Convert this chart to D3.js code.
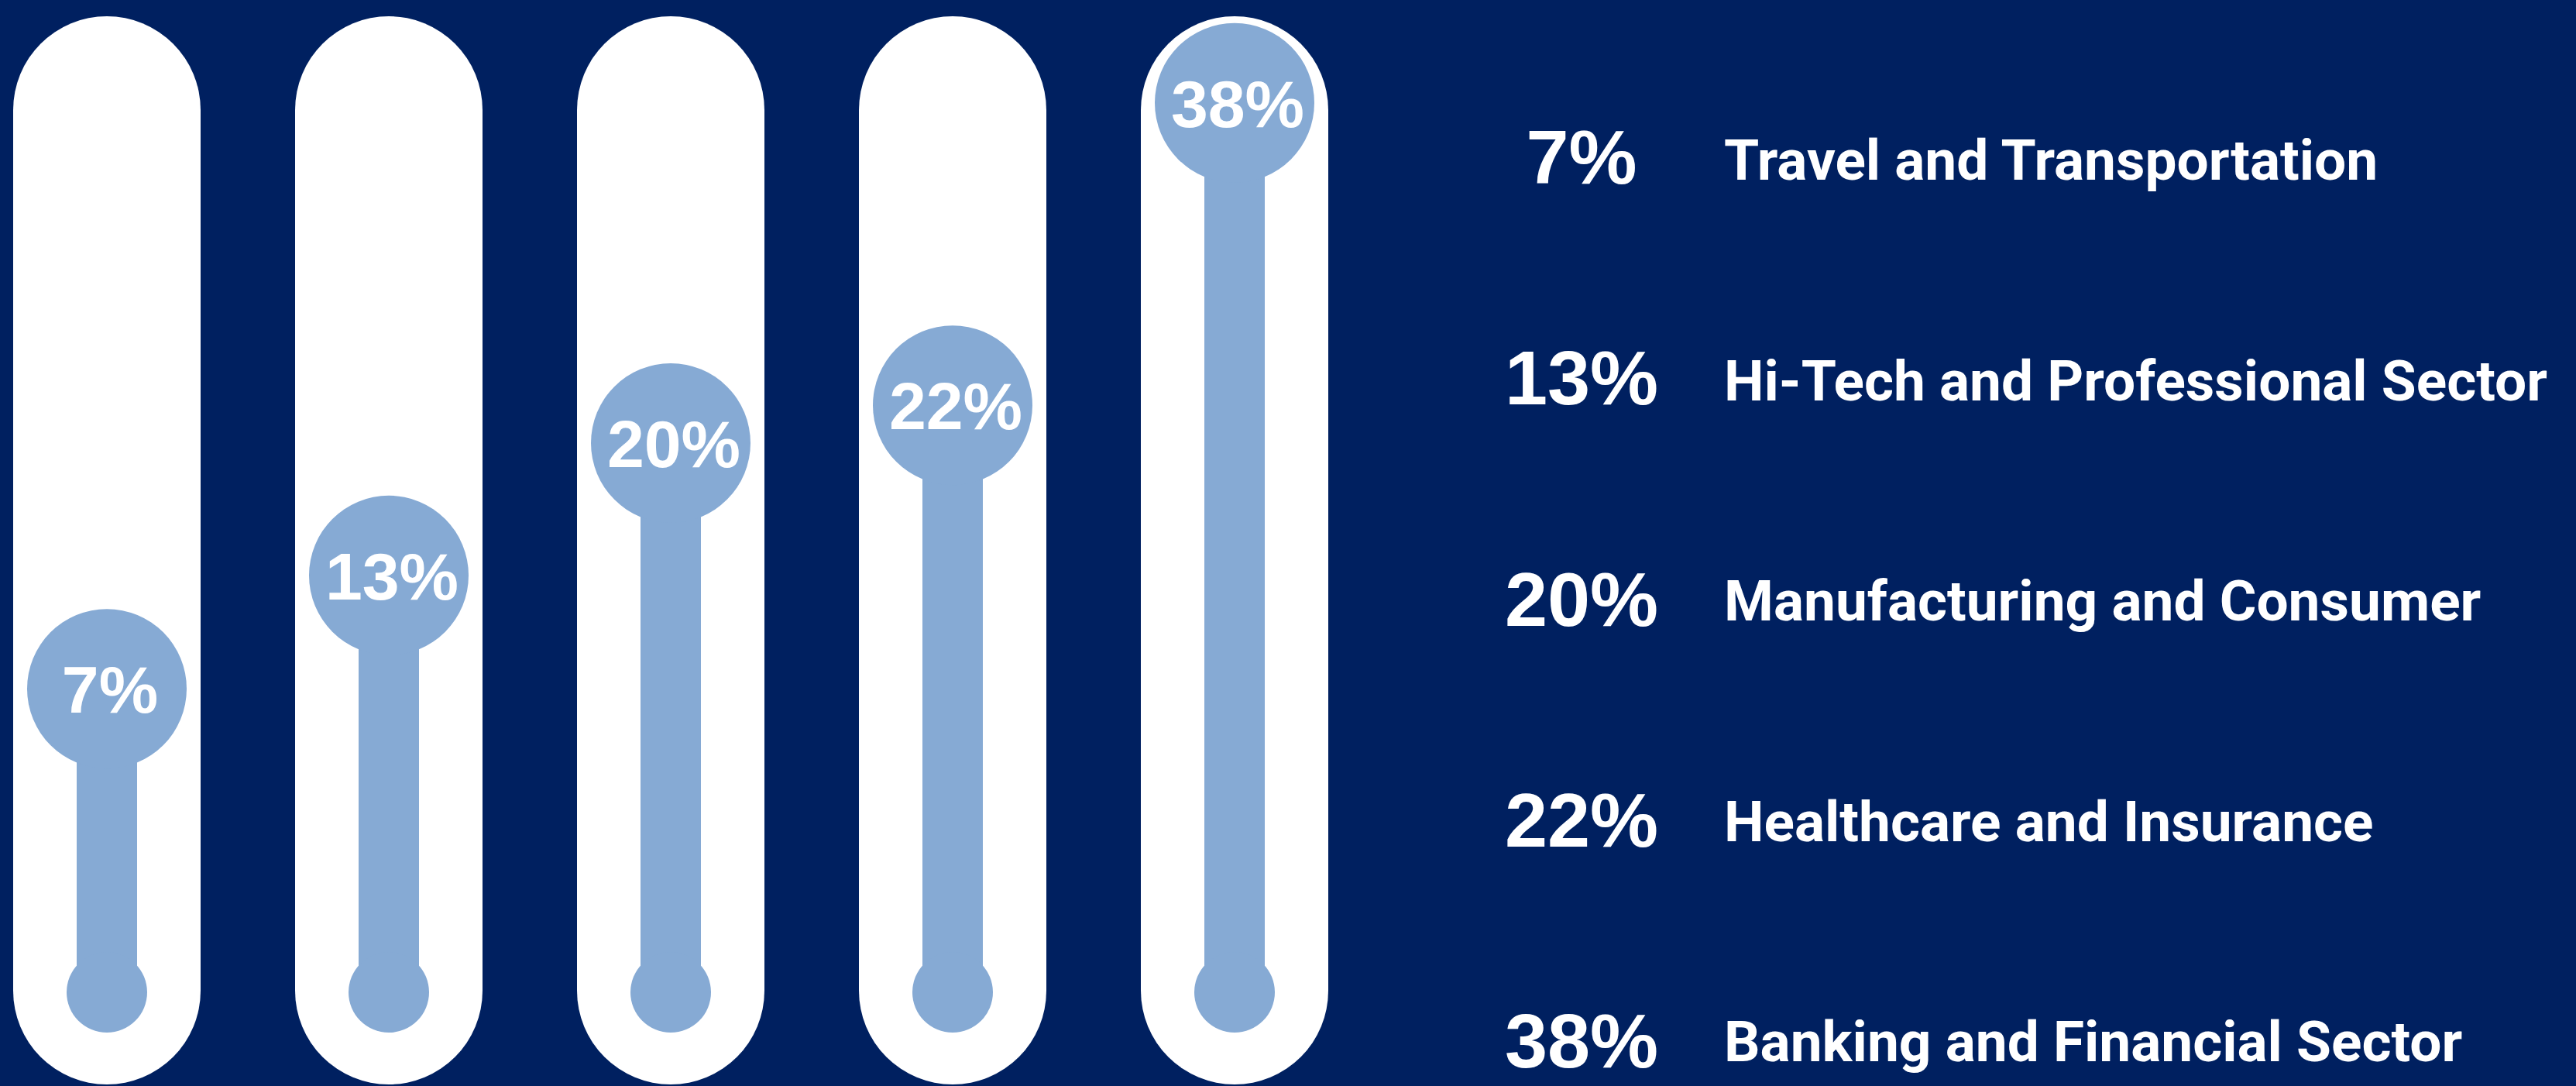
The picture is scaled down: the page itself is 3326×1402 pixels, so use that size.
<!DOCTYPE html>
<html>
<head>
<meta charset="utf-8">
<script src="https://cdn.jsdelivr.net/npm/d3@7"></script>
<style>
  html, body { margin: 0; padding: 0; background: #002060; overflow: hidden; }
  svg { display: block; }
</style>
</head>
<body>
<svg id="chart" width="3326" height="1402"></svg>
<script>
// Share of respondents by industry sector
const categories = [
  "Travel and Transportation",
  "Hi-Tech and Professional Sector",
  "Manufacturing and Consumer",
  "Healthcare and Insurance",
  "Banking and Financial Sector"
];
const shares = [7, 13, 20, 22, 38];
const shareLabels = shares.map(v => v + "%");

const data = categories.map((c, i) => ({ category: c, value: shares[i], label: shareLabels[i] }));

const W = 3326, H = 1402;
const BG = "#002060", FILL = "#86AAD4", TUBE = "#ffffff";

const svg = d3.select("#chart");
svg.append("rect").attr("width", W).attr("height", H).attr("fill", BG);

// thermometer columns
const x = d3.scalePoint().domain(categories).range([138, 1594]);
const y = d3.scaleLinear().domain([0, 40]).range([1060, 84]);

const tubeW = 242, tubeTop = 21, tubeBottom = 1400;
const bulbY = 1281, bulbR = 52, stemW = 78, headR = 103;

const g = svg.append("g");

const col = g.selectAll("g.col").data(data).join("g")
  .attr("class", "col")
  .attr("transform", d => `translate(${x(d.category)},0)`);

col.append("rect")
  .attr("x", -tubeW / 2).attr("y", tubeTop)
  .attr("width", tubeW).attr("height", tubeBottom - tubeTop)
  .attr("rx", tubeW / 2).attr("ry", tubeW / 2)
  .attr("fill", TUBE);

col.append("rect")
  .attr("x", -stemW / 2).attr("y", d => y(d.value))
  .attr("width", stemW).attr("height", d => bulbY - y(d.value))
  .attr("fill", FILL);

col.append("circle")
  .attr("cx", 0).attr("cy", bulbY).attr("r", bulbR)
  .attr("fill", FILL);

col.append("circle")
  .attr("cx", 0).attr("cy", d => y(d.value)).attr("r", headR)
  .attr("fill", FILL);

col.append("text")
  .attr("x", 4).attr("y", d => y(d.value))
  .attr("dy", "0.36em")
  .attr("text-anchor", "middle")
  .attr("fill", "#ffffff")
  .style("font-family", "'Liberation Sans', Arial, sans-serif")
  .style("font-weight", 700)
  .style("font-size", "86px")
  .text(d => d.label);

// legend rows
const valueRow = d3.scalePoint().domain(categories).range([237, 1378]);
const nameRow = d3.scalePoint().domain(categories).range([232, 1370]);

const leg = svg.append("g").selectAll("g").data(data).join("g");

leg.append("text")
  .attr("x", 2042).attr("y", d => valueRow(d.category))
  .attr("text-anchor", "middle")
  .attr("fill", "#ffffff")
  .style("font-family", "'Liberation Sans', Arial, sans-serif")
  .style("font-weight", 700)
  .style("font-size", "99px")
  .text(d => d.label);

leg.append("text")
  .attr("x", 2226).attr("y", d => nameRow(d.category))
  .attr("text-anchor", "start")
  .attr("fill", "#ffffff")
  .style("font-family", "Roboto, 'Open Sans', sans-serif")
  .style("font-weight", 700)
  .style("font-size", "73px")
  .text(d => d.category);
</script>
</body>
</html>
